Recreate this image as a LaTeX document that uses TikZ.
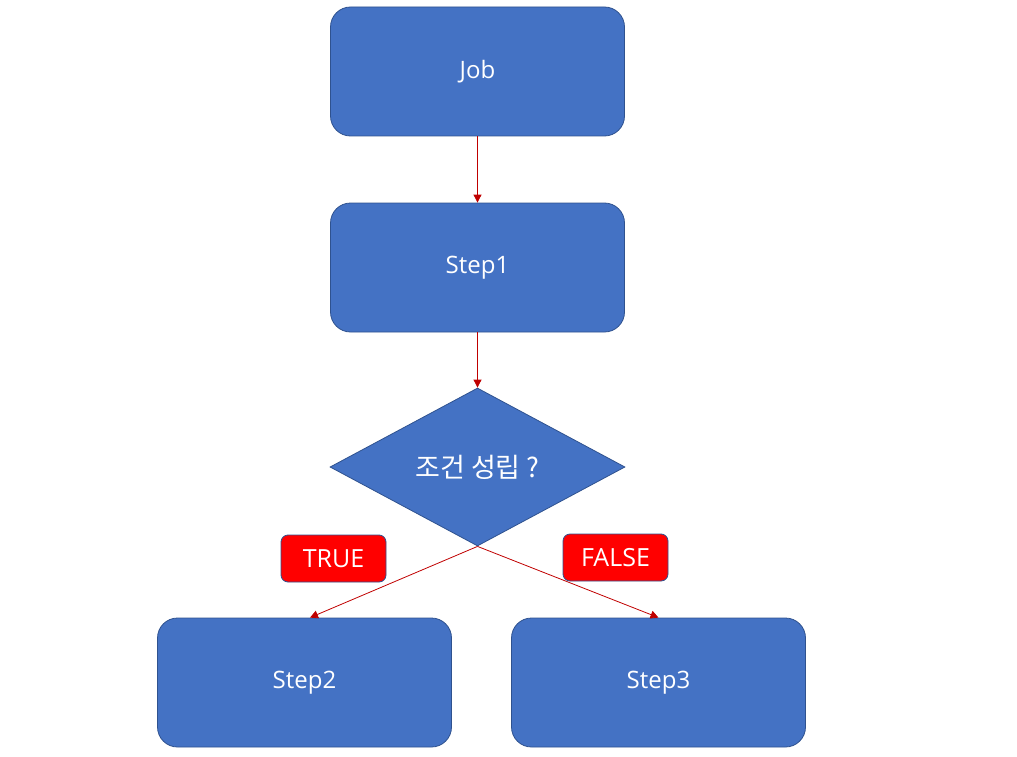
\documentclass[tikz,border=0pt]{standalone}
\usepackage{fontspec}
\setmainfont{Open Sans}
\newfontfamily\krfont{Noto Sans CJK KR}
\usetikzlibrary{shapes.geometric,arrows.meta}
\definecolor{boxblue}{HTML}{4472C4}
\definecolor{boxedge}{HTML}{2F528F}
\definecolor{arrred}{HTML}{C00000}
\begin{document}
\begin{tikzpicture}[x=1pt,y=-1pt,
  stepbox/.style={draw=boxedge,fill=boxblue,rounded corners=20pt,line width=0.8pt,
    minimum width=294pt,minimum height=129pt,text=white,font=\fontsize{24}{28}\selectfont},
  decbox/.style={draw=boxedge,fill=boxblue,diamond,line width=0.8pt,aspect=1.87,
    minimum width=295pt,minimum height=158pt,inner sep=0pt,text=white,font=\krfont\fontsize{27}{30}\selectfont},
  tag/.style={draw=boxedge,fill=red,rounded corners=7pt,line width=0.8pt,
    minimum width=105pt,minimum height=47pt,text=white,font=\fontsize{25}{28}\selectfont},
  conn/.style={draw=arrred,line width=0.8pt,-{Triangle[length=8pt,width=8pt]}}]
\useasboundingbox (0,0) rectangle (1017,757);
\node[stepbox] (job) at (477.5,71.5) {Job};
\node[stepbox] (s1) at (477.5,267.5) {Step1};
\node[decbox] (cond) at (477.5,467) {조건 성립 ?};
\node[stepbox] (s2) at (304.5,682.5) {Step2};
\node[stepbox] (s3) at (658.5,682.5) {Step3};
\node[tag] (t) at (333.5,558.5) {TRUE};
\node[tag] (f) at (615.5,557.5) {FALSE};
\draw[conn] (job.south) -- (s1.north);
\draw[conn] (s1.south) -- (cond.north);
\draw[conn] (cond.south) -- (s2.north -| 310,0);
\draw[conn] (cond.south) -- (s3.north);
\end{tikzpicture}
\end{document}
